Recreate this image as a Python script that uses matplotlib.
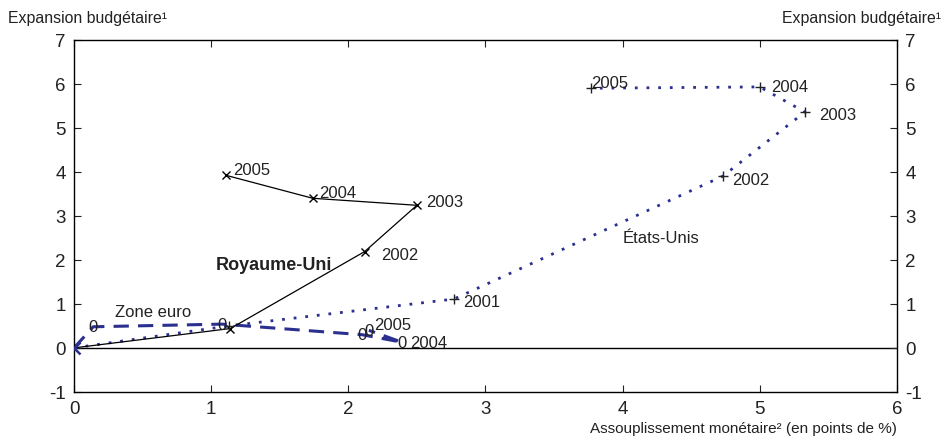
import matplotlib
matplotlib.use("Agg")
import matplotlib.pyplot as plt

plt.rcParams['font.family'] = ['Liberation Sans', 'DejaVu Sans']
plt.rcParams['axes.unicode_minus'] = False

# Data
uk_x = [0.0, 1.14, 2.12, 2.50, 1.74, 1.11]
uk_y = [0.0, 0.44, 2.19, 3.24, 3.40, 3.92]
uk_years = [None, None, "2002", "2003", "2004", "2005"]

us_x = [0.0, 1.13, 2.77, 4.73, 5.33, 5.00, 3.77]
us_y = [0.0, 0.50, 1.11, 3.90, 5.36, 5.93, 5.90]
us_years = [None, None, "2001", "2002", "2003", "2004", "2005"]

ez_x = [0.0, 0.14, 1.08, 2.10, 2.39, 2.15]
ez_y = [0.0, 0.48, 0.54, 0.30, 0.13, 0.40]
ez_years = [None, None, None, None, "2004", "2005"]

xticks = [0, 1, 2, 3, 4, 5, 6]
yticks = [-1, 0, 1, 2, 3, 4, 5, 6, 7]

blue = "#2b2f8f"
ink = "#222222"

fig = plt.figure(figsize=(9.49, 4.39), dpi=100)
ax = fig.add_axes([0.078, 0.105, 0.867, 0.802])
ax.set_xlim(0, 6)
ax.set_ylim(-1, 7)
ax.axhline(0, color="black", lw=1.0, zorder=1)

ax.plot(uk_x, uk_y, color="black", lw=0.9, marker="x", ms=6, mew=1.0, zorder=3)
ax.plot(us_x, us_y, color=blue, lw=2.0, ls=(0, (1, 3.2)), zorder=2)
ax.plot(us_x[1:], us_y[1:], ls="none", marker="+", ms=7, mew=1.0, color=ink, zorder=4)
ax.plot(ez_x, ez_y, color=blue, lw=2.2, ls=(0, (5, 3)), zorder=2)
for x, y in zip(ez_x[1:], ez_y[1:]):
    ax.text(x, y, "0", fontsize=12, ha="center", va="center", color=ink, zorder=4)
ax.plot([0], [0], marker="x", ms=9, mew=1.8, color=blue, zorder=5)

fs = 12
offs = {"uk": {"2002": (12, -2), "2003": (7, 3), "2004": (5, 4), "2005": (5, 4)},
        "us": {"2001": (7, -2), "2002": (7, -2), "2003": (10, -2), "2004": (8, 0), "2005": (0, 4)},
        "ez": {"2004": (6, 0), "2005": (4, 4)}}
for xs, ys, yrs, key in [(uk_x, uk_y, uk_years, "uk"), (us_x, us_y, us_years, "us"), (ez_x, ez_y, ez_years, "ez")]:
    for x, y, t in zip(xs, ys, yrs):
        if t:
            dx, dy = offs[key][t]
            ax.annotate(t, (x, y), xytext=(dx, dy), textcoords="offset points",
                        fontsize=fs, ha="left", va="center", color=ink)

ax.text(0.30, 0.82, "Zone euro", fontsize=fs, color=ink, va="center")
ax.text(1.03, 1.9, "Royaume-Uni", fontsize=13, fontweight="bold", color=ink, va="center")
ax.text(4.0, 2.5, "États-Unis", fontsize=fs, color=ink, va="center")

ax.set_xticks(xticks)
ax.set_yticks(yticks)
ax.tick_params(axis="both", direction="in", length=5, labelsize=13.5, top=True, right=True,
               labelright=True, colors=ink, pad=6)
for s in ax.spines.values():
    s.set_linewidth(1.0)

fig.text(8/949, 1 - 18/439, "Expansion budgétaire¹", fontsize=11.4, va="center", ha="left", color=ink)
fig.text(941/949, 1 - 18/439, "Expansion budgétaire¹", fontsize=11.4, va="center", ha="right", color=ink)
fig.text(897/949, 1 - 429/439, "Assouplissement monétaire² (en points de %)", fontsize=11,
         va="center", ha="right", color=ink)

fig.savefig("out.png", dpi=100)
